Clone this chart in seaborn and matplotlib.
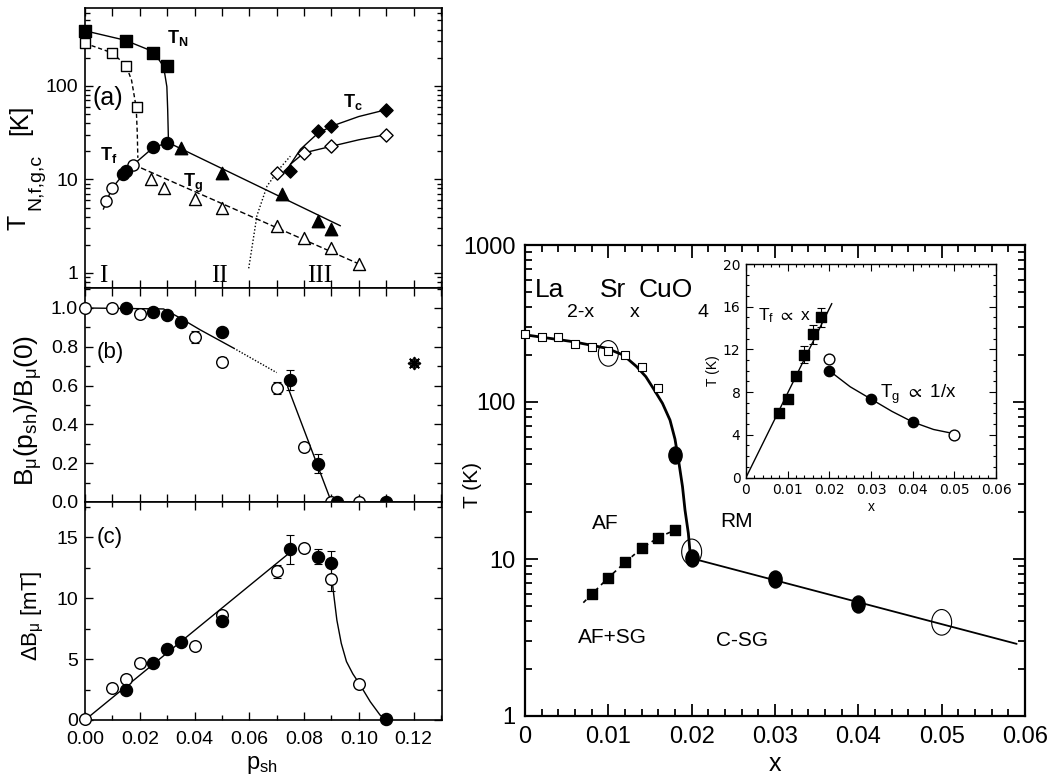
import matplotlib
matplotlib.use("Agg")
import matplotlib.pyplot as plt
import seaborn as sns
from matplotlib import ticker
from matplotlib.path import Path
from matplotlib.transforms import Affine2D

sns.set_theme(style="ticks")
NARROW = ["Liberation Sans Narrow", "Liberation Sans", "DejaVu Sans"]
plt.rcParams["font.family"] = ["Liberation Sans", "DejaVu Sans"]
plt.rcParams["mathtext.default"] = "regular"
for k in ["text.color", "axes.edgecolor", "xtick.color", "ytick.color", "axes.labelcolor"]:
    plt.rcParams[k] = "black"

# ---- panel (a): transition temperatures vs p_sh
a_tn_fill_p = [0.0, 0.015, 0.025, 0.030]
a_tn_fill_t = [388, 303, 222, 164]
a_tn_open_p = [0.0, 0.010, 0.015, 0.019]
a_tn_open_t = [285, 223, 164, 59]
a_tf_open_p = [0.0077, 0.010, 0.0177]
a_tf_open_t = [5.9, 8.0, 14.4]
a_tf_fill_p = [0.014, 0.015, 0.025, 0.030]
a_tf_fill_t = [11.5, 12.3, 22.0, 24.5]
a_tri_fill_p = [0.035, 0.050, 0.072, 0.085, 0.090]
a_tri_fill_t = [21.7, 11.8, 6.9, 3.6, 2.94]
a_tri_open_p = [0.024, 0.029, 0.040, 0.050, 0.070, 0.080, 0.090, 0.100]
a_tri_open_t = [10.0, 8.1, 6.1, 5.0, 3.2, 2.34, 1.87, 1.25]
a_dia_fill_p = [0.075, 0.085, 0.090, 0.110]
a_dia_fill_t = [12.3, 32.7, 36.9, 55.6]
a_dia_open_p = [0.070, 0.080, 0.090, 0.110]
a_dia_open_t = [11.6, 19.2, 22.6, 30.1]
# guide lines
a_tn_line_p = [0.0, 0.0146, 0.025, 0.0287, 0.0299, 0.0302, 0.0305]
a_tn_line_t = [388, 308, 232, 161, 98, 56, 24.5]
a_tn_dash_p = [0.0, 0.010, 0.015, 0.017, 0.0187, 0.0191, 0.0193]
a_tn_dash_t = [285, 225, 165, 115, 59, 31, 17]
a_tf_line_p = [0.0067, 0.0098, 0.015, 0.025, 0.030]
a_tf_line_t = [4.8, 8.0, 12.3, 22.0, 24.5]
a_tg_line_p = [0.0311, 0.0933]
a_tg_line_t = [24.2, 3.19]
a_tg_dash_p = [0.0177, 0.100]
a_tg_dash_t = [14.4, 1.25]
a_tc_fill_line_p = [0.074, 0.0787, 0.085, 0.090, 0.100, 0.110]
a_tc_fill_line_t = [13.0, 21.0, 31.0, 37.0, 47.0, 55.6]
a_tc_open_line_p = [0.075, 0.080, 0.090, 0.100, 0.110]
a_tc_open_line_t = [14.5, 19.2, 22.6, 26.5, 30.1]
a_bound_p = [0.0598, 0.0628, 0.0665, 0.0713, 0.0750]
a_bound_t = [1.12, 4.1, 8.5, 13.3, 17.7]

# ---- panel (b): normalised muon field
b_open_p = [0.0, 0.01, 0.02, 0.04, 0.05, 0.07, 0.08, 0.09, 0.10]
b_open_v = [1.0, 1.0, 0.97, 0.85, 0.724, 0.586, 0.284, 0.0, 0.0]
b_open_e = [0, 0, 0.02, 0.03, 0.025, 0.03, 0.015, 0, 0]
b_fill_p = [0.015, 0.025, 0.030, 0.035, 0.050, 0.075, 0.085, 0.092, 0.110]
b_fill_v = [1.0, 0.98, 0.962, 0.926, 0.876, 0.629, 0.198, 0.0, 0.0]
b_fill_e = [0, 0.01, 0, 0, 0, 0.05, 0.05, 0, 0]
b_star_p = [0.12]
b_star_v = [0.716]
b_fit1_p = [0.0, 0.0287, 0.0348, 0.042, 0.0543]
b_fit1_v = [1.0, 0.995, 0.948, 0.888, 0.793]
b_dot_p = [0.0543, 0.070]
b_dot_v = [0.793, 0.667]
b_fit2_p = [0.074, 0.090]
b_fit2_v = [0.595, 0.0]

# ---- panel (c): field width
c_open_p = [0.0, 0.01, 0.015, 0.02, 0.04, 0.05, 0.07, 0.08, 0.09, 0.10]
c_open_v = [0.1, 2.64, 3.36, 4.64, 6.07, 8.6, 12.2, 14.1, 11.6, 2.95]
c_open_e = [0, 0.2, 0, 0, 0, 0.3, 0.5, 0.3, 1.0, 0]
c_fill_p = [0.015, 0.025, 0.030, 0.035, 0.050, 0.075, 0.085, 0.090, 0.110]
c_fill_v = [2.5, 4.64, 5.8, 6.42, 8.12, 14.0, 13.4, 12.9, 0.07]
c_fill_e = [0, 0, 0, 0, 0.3, 1.2, 0.6, 1.0, 0]
c_lin_p = [0.0, 0.0762]
c_lin_v = [0.0, 14.0]
c_drop_p = [0.0902, 0.0908, 0.092, 0.0936, 0.0955, 0.0978, 0.1003, 0.1042, 0.1078, 0.110]
c_drop_v = [11.6, 10.4, 8.2, 6.3, 4.8, 3.8, 2.95, 1.5, 0.4, 0.05]

# ---- right: La2-xSrxCuO4 phase diagram
m_sq_open_x = [0.0, 0.002, 0.004, 0.006, 0.008, 0.010, 0.012, 0.014, 0.016]
m_sq_open_t = [271, 258, 258, 233, 225, 211, 199, 168, 122]
m_big_open_x = [0.010, 0.020, 0.050]
m_big_open_t = [204, 11.1, 3.95]
m_big_fill_x = [0.018, 0.020, 0.030, 0.040]
m_big_fill_t = [45.9, 10.1, 7.5, 5.2]
m_sq_fill_x = [0.008, 0.010, 0.012, 0.014, 0.016, 0.018]
m_sq_fill_t = [5.96, 7.6, 9.5, 11.7, 13.7, 15.3]
m_tn_x = [0.0, 0.0058, 0.0098, 0.0118, 0.0134, 0.0145, 0.0154, 0.0165, 0.0174,
          0.0180, 0.0185, 0.0189, 0.0192, 0.0196, 0.0198, 0.0199]
m_tn_t = [268, 242, 220, 199, 168, 145, 122, 98, 76.7, 58, 40, 28.9, 20.5,
          14.6, 11.1, 10.1]
m_sg_x = [0.020, 0.059]
m_sg_t = [10.1, 2.88]
m_dash_x = [0.007, 0.008, 0.010, 0.012, 0.014, 0.016, 0.018]
m_dash_t = [5.27, 5.96, 7.6, 9.5, 11.7, 13.7, 15.3]

# ---- inset
i_sq_x = [0.008, 0.010, 0.012, 0.014, 0.016, 0.018]
i_sq_t = [6.0, 7.4, 9.5, 11.5, 13.4, 15.0]
i_sq_e = [0, 0, 0.3, 0.8, 0.9, 0.9]
i_lin_x = [0.0, 0.0206]
i_lin_t = [0.0, 16.3]
i_open_x = [0.02, 0.05]
i_open_t = [11.1, 4.0]
i_fill_x = [0.02, 0.03, 0.04]
i_fill_t = [10.0, 7.35, 5.2]
i_curve_x = [0.02, 0.025, 0.03, 0.035, 0.04, 0.045, 0.05]
i_curve_t = [10.0, 8.5, 7.35, 6.2, 5.2, 4.5, 4.1]

ELL = Path.unit_circle().transformed(Affine2D().scale(0.78, 1.0))
W, H = 1053, 783


def dots(ax, x, y, marker, s, filled=True, lw=1.0, face=None):
    if face is None:
        face = "black" if filled else "white"
    sns.scatterplot(x=x, y=y, ax=ax, marker=marker, s=s, facecolor=face,
                    edgecolor="black", linewidth=lw, zorder=4, clip_on=False,
                    legend=False)


def curve(ax, x, y, ls="-", lw=1.0):
    sns.lineplot(x=x, y=y, ax=ax, color="black", lw=lw, linestyle=ls,
                 sort=False, estimator=None, zorder=2)


def bars(ax, x, y, e):
    ax.errorbar(x, y, yerr=e, fmt="none", ecolor="black", elinewidth=0.8,
                capsize=3, capthick=0.8, zorder=3)


def frame(ax, major, minor, lw=1.2):
    for sp in ax.spines.values():
        sp.set_visible(True)
        sp.set_linewidth(lw)
    ax.tick_params(which="both", direction="in", top=True, right=True,
                   color="black", width=lw * 0.8)
    ax.tick_params(which="major", length=major)
    ax.tick_params(which="minor", length=minor)


def ftext(X, Y, s, **kw):
    fig.text(X / W, 1 - Y / H, s, **kw)


fig = plt.figure(figsize=(10.53, 7.83), dpi=100)
ax_a = fig.add_axes([85 / W, 1 - 288 / H, 357 / W, 280 / H])
ax_b = fig.add_axes([85 / W, 1 - 502 / H, 357 / W, 214 / H])
ax_c = fig.add_axes([85 / W, 1 - 720 / H, 357 / W, 218 / H])
ax_m = fig.add_axes([525 / W, 1 - 716 / H, 500 / W, 471 / H])
ax_i = fig.add_axes([746 / W, 1 - 477.5 / H, 250 / W, 213.5 / H])

# (a)
ax_a.set_yscale("log")
curve(ax_a, a_tn_line_p, a_tn_line_t)
curve(ax_a, a_tn_dash_p, a_tn_dash_t, ls=(0, (3, 2)))
curve(ax_a, a_tf_line_p, a_tf_line_t)
curve(ax_a, a_tg_line_p, a_tg_line_t)
curve(ax_a, a_tg_dash_p, a_tg_dash_t, ls=(0, (4, 2)))
curve(ax_a, a_tc_fill_line_p, a_tc_fill_line_t)
curve(ax_a, a_tc_open_line_p, a_tc_open_line_t)
curve(ax_a, a_bound_p, a_bound_t, ls=(0, (1, 1.5)))
dots(ax_a, a_tn_fill_p, a_tn_fill_t, "s", 80)
dots(ax_a, a_tn_open_p, a_tn_open_t, "s", 55, filled=False)
dots(ax_a, a_tf_open_p, a_tf_open_t, "o", 65, filled=False)
dots(ax_a, a_tf_fill_p, a_tf_fill_t, "o", 75)
dots(ax_a, a_tri_fill_p, a_tri_fill_t, "^", 80)
dots(ax_a, a_tri_open_p, a_tri_open_t, "^", 75, filled=False)
dots(ax_a, a_dia_fill_p, a_dia_fill_t, "D", 45)
dots(ax_a, a_dia_open_p, a_dia_open_t, "D", 45, filled=False)
ax_a.set_xlim(0, 0.1304)
ax_a.set_ylim(0.69, 680)
ax_a.xaxis.set_major_locator(ticker.MultipleLocator(0.01))
ax_a.set_xticklabels([])
ax_a.set_yticks([1, 10, 100])
ax_a.set_yticklabels(["1", "10", "100"])
ax_a.yaxis.set_minor_locator(ticker.LogLocator(subs=range(2, 10)))
ax_a.yaxis.set_minor_formatter(ticker.NullFormatter())
frame(ax_a, 6, 3.5)
ax_a.tick_params(labelsize=14, pad=5)
tA = ax_a.transAxes
for s, x, y in [("T$_N$", 0.229, 0.874), ("T$_f$", 0.042, 0.457),
                ("T$_g$", 0.275, 0.362), ("T$_c$", 0.722, 0.647)]:
    ax_a.text(x, y, s, transform=tA, fontsize=13, fontweight="bold", va="baseline")
ax_a.text(0.064, 0.679, "(a)", transform=tA, fontsize=18, ha="center", va="center")
for s, x in [("I", 0.05), ("II", 0.378), ("III", 0.658)]:
    ax_a.text(x, 0.0225, s, transform=tA, fontsize=18, ha="center", va="baseline",
              family=["Liberation Serif", "DejaVu Serif"])

# (b)
curve(ax_b, b_fit1_p, b_fit1_v)
curve(ax_b, b_dot_p, b_dot_v, ls=(0, (1, 1.2)))
curve(ax_b, b_fit2_p, b_fit2_v)
bars(ax_b, b_open_p, b_open_v, b_open_e)
bars(ax_b, b_fill_p, b_fill_v, b_fill_e)
dots(ax_b, b_open_p, b_open_v, "o", 70, filled=False)
dots(ax_b, b_fill_p, b_fill_v, "o", 75)
dots(ax_b, b_star_p, b_star_v, "o", 45, filled=False, lw=0.8)
dots(ax_b, b_star_p, b_star_v, (8, 2, 0), 70, lw=1.3)
ax_b.set_xlim(0, 0.1304)
ax_b.set_ylim(0, 1.103)
ax_b.xaxis.set_major_locator(ticker.MultipleLocator(0.01))
ax_b.set_xticklabels([])
ax_b.set_yticks([0, 0.2, 0.4, 0.6, 0.8, 1.0])
ax_b.set_yticklabels(["0.0", "0.2", "0.4", "0.6", "0.8", "1.0"])
ax_b.yaxis.set_minor_locator(ticker.MultipleLocator(0.1))
frame(ax_b, 6, 3.5)
ax_b.tick_params(labelsize=14, pad=5)
ax_b.text(0.07, 0.70, "(b)", transform=ax_b.transAxes, fontsize=16, ha="center", va="center")

# (c)
curve(ax_c, c_lin_p, c_lin_v)
curve(ax_c, c_drop_p, c_drop_v)
bars(ax_c, c_open_p, c_open_v, c_open_e)
bars(ax_c, c_fill_p, c_fill_v, c_fill_e)
dots(ax_c, c_open_p, c_open_v, "o", 70, filled=False)
dots(ax_c, c_fill_p, c_fill_v, "o", 75)
ax_c.set_xlim(0, 0.1304)
ax_c.set_ylim(0, 17.9)
ax_c.set_xticks([0, 0.02, 0.04, 0.06, 0.08, 0.10, 0.12])
ax_c.set_xticklabels(["0.00", "0.02", "0.04", "0.06", "0.08", "0.10", "0.12"])
ax_c.xaxis.set_minor_locator(ticker.MultipleLocator(0.01))
ax_c.set_yticks([0, 5, 10, 15])
ax_c.set_yticklabels(["0", "5", "10", "15"])
ax_c.yaxis.set_minor_locator(ticker.MultipleLocator(2.5))
frame(ax_c, 6, 3.5)
ax_c.tick_params(labelsize=14, pad=5)
ax_c.tick_params(axis="x", pad=8)
ax_c.text(0.07, 0.835, "(c)", transform=ax_c.transAxes, fontsize=16, ha="center", va="center")

# left y labels (rotated, built from pieces)
ftext(19, 222, "T", fontsize=18, rotation=90, ha="center", va="center")
ftext(36, 182, "N,f,g,c", fontsize=14, rotation=90, ha="center", va="center")
ftext(20, 120, "[K]", fontsize=18, rotation=90, ha="center", va="center")
ftext(28, 410, "B$_μ$(p$_{sh}$)/B$_μ$(0)", fontsize=19, rotation=90, ha="center", va="center")
ftext(33, 616, "ΔB$_μ$ [mT]", fontsize=16, rotation=90, ha="center", va="center")
ftext(262, 765, "p$_{sh}$", fontsize=17, ha="center", va="center")

# main phase diagram
ax_m.set_yscale("log")
curve(ax_m, m_tn_x, m_tn_t, lw=2.0)
curve(ax_m, m_sg_x, m_sg_t, lw=1.3)
curve(ax_m, m_dash_x, m_dash_t, ls=(0, (2.5, 2.5)), lw=1.2)
dots(ax_m, m_sq_open_x, m_sq_open_t, "s", 34, filled=False, lw=0.8)
dots(ax_m, m_sq_fill_x, m_sq_fill_t, "s", 42)
dots(ax_m, m_big_fill_x, m_big_fill_t, ELL, 150)
dots(ax_m, m_big_open_x, m_big_open_t, ELL, 340, lw=0.8, face="none")
ax_m.set_xlim(0, 0.06)
ax_m.set_ylim(1, 1000)
ax_m.set_xticks([0, 0.01, 0.02, 0.03, 0.04, 0.05, 0.06])
ax_m.set_xticklabels(["0", "0.01", "0.02", "0.03", "0.04", "0.05", "0.06"])
ax_m.xaxis.set_minor_locator(ticker.MultipleLocator(0.002))
ax_m.set_yticks([1, 10, 100, 1000])
ax_m.set_yticklabels(["1", "10", "100", "1000"])
ax_m.yaxis.set_minor_locator(ticker.LogLocator(subs=range(2, 10)))
ax_m.yaxis.set_minor_formatter(ticker.NullFormatter())
frame(ax_m, 9, 5, lw=1.6)
ax_m.tick_params(labelsize=17, pad=7)
plt.setp(ax_m.get_xticklabels() + ax_m.get_yticklabels(), family=NARROW)
ax_m.set_ylabel("T (K)", fontsize=15, family=NARROW)
ax_m.yaxis.set_label_coords(-0.085, 0.49)
ax_m.set_xlabel("x", fontsize=18, family=NARROW, labelpad=3)
tM = ax_m.transAxes
for s, x, y, fs in [("La", 0.02, 0.904, 19), ("2-x", 0.084, 0.856, 14),
                    ("Sr", 0.15, 0.904, 19), ("x", 0.21, 0.856, 14),
                    ("CuO", 0.228, 0.904, 19), ("4", 0.346, 0.856, 14)]:
    ax_m.text(x, y, s, transform=tM, fontsize=fs, family=NARROW, va="center")
for s, x, y in [("AF", 0.16, 0.408), ("RM", 0.424, 0.412),
                ("AF+SG", 0.174, 0.166), ("C-SG", 0.434, 0.161)]:
    ax_m.text(x, y, s, transform=tM, fontsize=15, family=NARROW, ha="center", va="center")

# inset
curve(ax_i, i_lin_x, i_lin_t, lw=1.0)
curve(ax_i, i_curve_x, i_curve_t, lw=1.0)
bars(ax_i, i_sq_x, i_sq_t, i_sq_e)
dots(ax_i, i_sq_x, i_sq_t, "s", 55)
dots(ax_i, i_open_x, i_open_t, "o", 60, filled=False)
dots(ax_i, i_fill_x, i_fill_t, "o", 55)
ax_i.set_xlim(0, 0.06)
ax_i.set_ylim(0, 20)
ax_i.set_xticks([0, 0.01, 0.02, 0.03, 0.04, 0.05, 0.06])
ax_i.set_xticklabels(["0", "0.01", "0.02", "0.03", "0.04", "0.05", "0.06"])
ax_i.xaxis.set_minor_locator(ticker.MultipleLocator(0.002))
ax_i.set_yticks([0, 4, 8, 12, 16, 20])
ax_i.set_yticklabels(["0", "4", "8", "12", "16", "20"])
ax_i.yaxis.set_minor_locator(ticker.MultipleLocator(1))
frame(ax_i, 5, 2.5, lw=1.0)
ax_i.tick_params(labelsize=10, pad=4)
plt.setp(ax_i.get_xticklabels() + ax_i.get_yticklabels(), family=["DejaVu Sans"])
ax_i.set_ylabel("T (K)", fontsize=10, labelpad=2)
ax_i.set_xlabel("x", fontsize=10, labelpad=2)
ax_i.text(0.048, 0.738, r"T$_f$ $\propto$ x", transform=ax_i.transAxes, fontsize=12.5, va="baseline")
ax_i.text(0.536, 0.372, r"T$_g$ $\propto$ 1/x", transform=ax_i.transAxes, fontsize=13.5, va="baseline")

fig.savefig("out.png", dpi=100)
